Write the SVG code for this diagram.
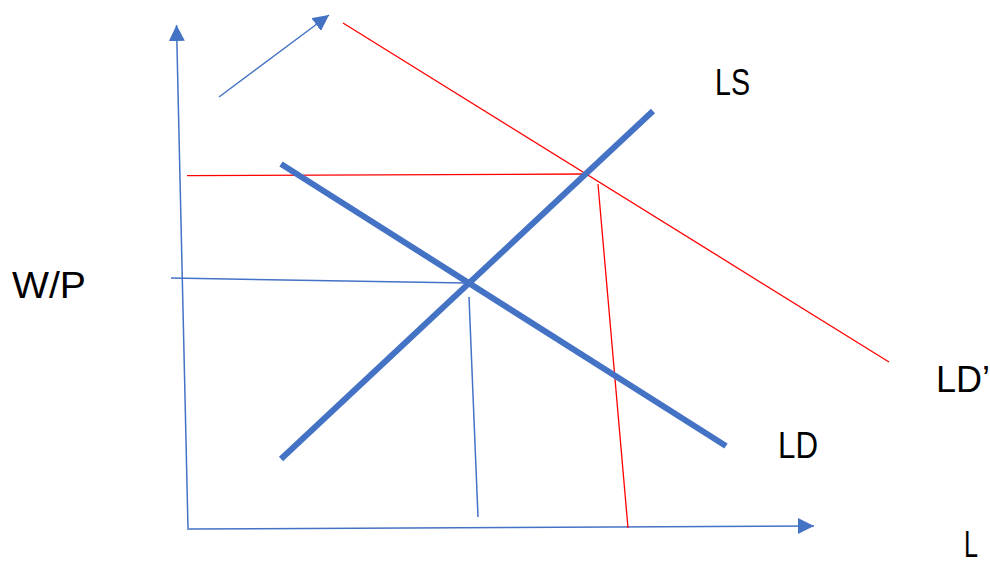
<svg xmlns="http://www.w3.org/2000/svg" width="990" height="564" viewBox="0 0 990 564">
<style>
.thin{stroke:#4472C4;stroke-width:1.5;fill:none}
.thick{stroke:#4472C4;stroke-width:6;fill:none}
.red{stroke:#FF0000;stroke-width:1.3;fill:none}
text{font-family:"Liberation Sans",Arial,sans-serif;font-size:36px;fill:#000}
</style>
<defs>
<marker id="ah" markerUnits="userSpaceOnUse" markerWidth="18" markerHeight="18" refX="16" refY="8" orient="auto">
<path d="M0,0 L16,8 L0,16 Z" fill="#4472C4"/>
</marker>
</defs>
<rect width="990" height="564" fill="#fff"/>
<g id="connectors">
<line id="y-axis" class="thin" x1="188" y1="528" x2="176.5" y2="25" marker-end="url(#ah)"/>
<line id="x-axis" class="thin" x1="187" y1="529" x2="814" y2="526" marker-end="url(#ah)"/>
<line id="shift-arrow" class="thin" x1="219" y1="97" x2="329" y2="15" marker-end="url(#ah)"/>
<line id="LDprime-curve" class="red" x1="343" y1="23" x2="889" y2="362"/>
<line id="red-h" class="red" x1="187" y1="175.7" x2="585" y2="174"/>
<line id="red-v" class="red" x1="598" y1="184" x2="628" y2="528"/>
<line id="blue-h" class="thin" x1="171" y1="278" x2="466" y2="283"/>
<line id="blue-v" class="thin" x1="469" y1="297" x2="478" y2="517"/>
<line id="LS-curve" class="thick" x1="281" y1="459" x2="653" y2="111"/>
<line id="LD-curve" class="thick" x1="281" y1="164" x2="726" y2="446"/>
</g>
<g id="label-WP"><text x="12" y="298" textLength="74" lengthAdjust="spacingAndGlyphs">W/P</text></g>
<g id="label-LS"><text x="715" y="95" textLength="35" lengthAdjust="spacingAndGlyphs">LS</text></g>
<g id="label-LD"><text x="778" y="458" textLength="40" lengthAdjust="spacingAndGlyphs">LD</text></g>
<g id="label-LDp"><text x="936" y="392" font-size="32">LD’</text></g>
<g id="label-L"><text x="964" y="557" font-size="34" textLength="14" lengthAdjust="spacingAndGlyphs">L</text></g>
</svg>
